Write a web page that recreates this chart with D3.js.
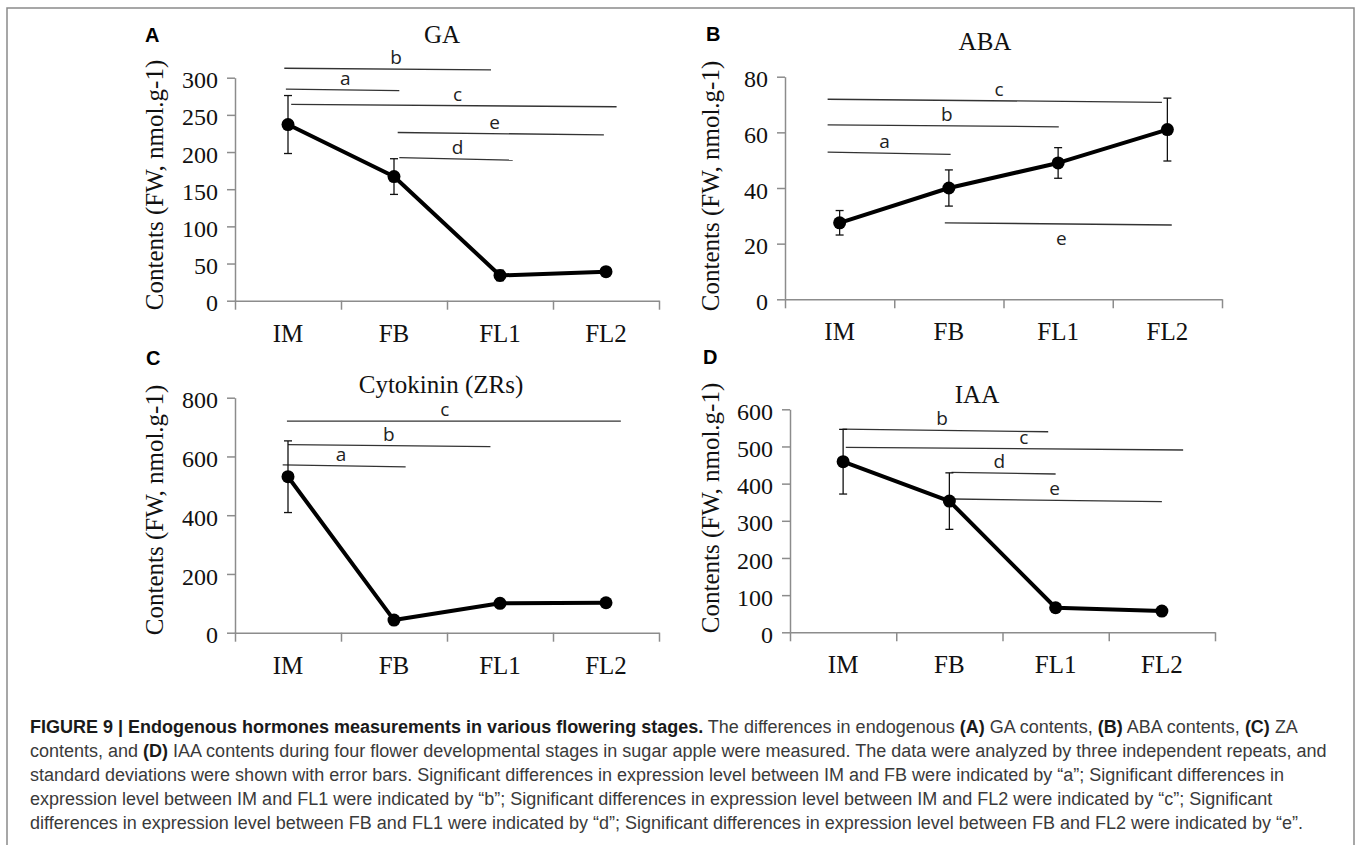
<!DOCTYPE html>
<html>
<head>
<meta charset="utf-8">
<script src="https://cdn.jsdelivr.net/npm/d3@7"></script>
<style>
  body { margin: 0; background: #fff; }
  svg { display: block; }
</style>
</head>
<body>
<svg id="fig" width="1360" height="845"></svg>
<script>
// stages on the x axis
var stages = ["IM", "FB", "FL1", "FL2"];

// means and standard deviations
var gaMean = [237, 167, 34, 39];
var gaErr = [39, 24, 7, 0];
var abaMean = [27.5, 40, 49, 61];
var abaErr = [4.4, 6.5, 5.5, 11.3];
var ckMean = [531, 43, 100, 102];
var ckErr = [122, 0, 0, 0];
var iaaMean = [459, 353, 66, 57];
var iaaErr = [87, 76, 0, 0];

// y tick labels
var gaTicks = [0, 50, 100, 150, 200, 250, 300];
var abaTicks = [0, 20, 40, 60, 80];
var ckTicks = [0, 200, 400, 600, 800];
var iaaTicks = [0, 100, 200, 300, 400, 500, 600];

// significance bars: letter, start/end in stage units, height at each end, letter position
var gaSig = [
  {k: "b", x0: -0.035, x1: 1.915, y0: 312.7, y1: 310.4, lx: 1.02},
  {k: "a", x0: -0.02, x1: 1.05, y0: 284.7, y1: 282.5, lx: 0.54},
  {k: "c", x0: 0.03, x1: 3.10, y0: 264, y1: 260.9, lx: 1.6},
  {k: "e", x0: 1.035, x1: 2.98, y0: 226.3, y1: 223.1, lx: 1.95},
  {k: "d", x0: 1.05, x1: 2.12, y0: 192.6, y1: 189, lx: 1.6}
];
var abaSig = [
  {k: "c", x0: -0.11, x1: 2.95, y0: 71.9, y1: 70.8, lx: 1.46},
  {k: "b", x0: -0.11, x1: 2.006, y0: 62.7, y1: 62.0, lx: 0.98},
  {k: "a", x0: -0.11, x1: 1.016, y0: 52.9, y1: 52.1, lx: 0.41},
  {k: "e", x0: 0.963, x1: 3.04, y0: 27.5, y1: 26.7, lx: 2.03, below: true}
];
var ckSig = [
  {k: "c", x0: -0.01, x1: 3.14, y0: 720, y1: 720, lx: 1.48},
  {k: "b", x0: 0.0, x1: 1.91, y0: 640.5, y1: 633.7, lx: 0.95},
  {k: "a", x0: -0.05, x1: 1.11, y0: 571, y1: 564.6, lx: 0.5}
];
var iaaSig = [
  {k: "b", x0: -0.006, x1: 1.93, y0: 546.8, y1: 539.6, lx: 0.93},
  {k: "c", x0: 0.025, x1: 3.2, y0: 497.7, y1: 490.5, lx: 1.7},
  {k: "d", x0: 1.02, x1: 2.0, y0: 430.5, y1: 425.9, lx: 1.47},
  {k: "e", x0: 1.04, x1: 3.0, y0: 358.6, y1: 351.4, lx: 1.99}
];

var yTitle = "Contents (FW, nmol.g-1)";

var svg = d3.select("#fig");

// page frame
svg.append("rect")
  .attr("x", 7).attr("y", 8)
  .attr("width", 1347).attr("height", 900)
  .attr("fill", "none")
  .attr("stroke", "#8a8a8a")
  .attr("stroke-width", 1.5);

var serif = "'Liberation Serif', 'Times New Roman', serif";
var sans = "'Liberation Sans', Arial, sans-serif";

function panel(p){
  var x = d3.scaleLinear().domain([-0.5, 3.5]).range([p.left, p.right]);
  var y = d3.scaleLinear().domain([0, d3.max(p.ticks)]).range([p.bottom, p.top]);
  var g = svg.append("g");

  // y axis
  var ya = g.append("g")
    .attr("transform", "translate(" + p.left + ",0)")
    .call(d3.axisLeft(y).tickValues(p.ticks).tickSize(8).tickSizeOuter(0).tickPadding(9));
  // x axis: ticks between stages, names centred below
  var xa = g.append("g")
    .attr("transform", "translate(0," + p.bottom + ")")
    .call(d3.axisBottom(x).tickValues([-0.5, 0.5, 1.5, 2.5, 3.5]).tickFormat("").tickSize(9).tickSizeOuter(0));
  [ya, xa].forEach(function(a){
    a.selectAll("path, line").attr("stroke", "#8c8c8c").attr("stroke-width", 1.5);
    a.selectAll("text").attr("font-family", serif).attr("font-size", "24px").attr("fill", "#111");
  });
  ya.selectAll("text").attr("dy", "0.42em");

  g.selectAll(".stage")
    .data(stages)
    .enter()
    .append("text")
    .attr("x", function(d, i){ return x(i); })
    .attr("y", p.bottom + 41)
    .attr("text-anchor", "middle")
    .attr("font-family", serif)
    .attr("font-size", "25px")
    .attr("fill", "#111")
    .text(function(d){ return d; });

  // significance bars
  p.sig.forEach(function(s){
    g.append("line")
      .attr("x1", x(s.x0)).attr("x2", x(s.x1))
      .attr("y1", y(s.y0)).attr("y2", y(s.y1))
      .attr("stroke", "#333").attr("stroke-width", 1.3);
    var ly = y(s.y0 + (s.y1 - s.y0) * (s.lx - s.x0) / (s.x1 - s.x0));
    g.append("text")
      .attr("x", x(s.lx))
      .attr("y", s.below ? ly + 21 : ly - 5)
      .attr("text-anchor", "middle")
      .attr("font-family", "'Open Sans', Arial, sans-serif")
      .attr("font-size", "19px")
      .attr("fill", "#222")
      .text(s.k);
  });

  // error bars
  var pts = p.mean.map(function(m, i){ return {i: i, m: m, e: p.err[i]}; });
  var eb = g.selectAll(".err").data(pts.filter(function(d){ return d.e > 0; })).enter().append("g");
  eb.append("line")
    .attr("x1", function(d){ return x(d.i); }).attr("x2", function(d){ return x(d.i); })
    .attr("y1", function(d){ return y(d.m - d.e); }).attr("y2", function(d){ return y(d.m + d.e); })
    .attr("stroke", "#111").attr("stroke-width", 1.3);
  [-1, 1].forEach(function(sgn){
    eb.append("line")
      .attr("x1", function(d){ return x(d.i) - 4; }).attr("x2", function(d){ return x(d.i) + 4; })
      .attr("y1", function(d){ return y(d.m + sgn * d.e); }).attr("y2", function(d){ return y(d.m + sgn * d.e); })
      .attr("stroke", "#111").attr("stroke-width", 1.3);
  });

  // series line and markers
  g.append("path")
    .datum(pts)
    .attr("fill", "none")
    .attr("stroke", "#000")
    .attr("stroke-width", 4)
    .attr("stroke-linejoin", "round")
    .attr("d", d3.line().x(function(d){ return x(d.i); }).y(function(d){ return y(d.m); }));
  g.selectAll(".pt")
    .data(pts)
    .enter()
    .append("circle")
    .attr("cx", function(d){ return x(d.i); })
    .attr("cy", function(d){ return y(d.m); })
    .attr("r", 6.5)
    .attr("fill", "#000");

  // titles
  g.append("text")
    .attr("x", p.titleX).attr("y", p.titleY)
    .attr("text-anchor", "middle")
    .attr("font-family", serif).attr("font-size", "25px").attr("fill", "#111")
    .text(p.title);
  g.append("text")
    .attr("x", p.letterX).attr("y", p.letterY)
    .attr("font-family", sans).attr("font-weight", "bold").attr("font-size", "20px").attr("fill", "#000")
    .text(p.letter);
  g.append("text")
    .attr("transform", "translate(" + p.yTitleX + "," + p.yTitleY + ") rotate(-90)")
    .attr("text-anchor", "middle")
    .attr("font-family", serif).attr("font-size", "25px").attr("fill", "#111")
    .text(yTitle);
}

panel({letter: "A", title: "GA", mean: gaMean, err: gaErr, ticks: gaTicks, sig: gaSig,
  left: 235, right: 659, bottom: 300.7, top: 77.7,
  titleX: 442, titleY: 43, letterX: 145, letterY: 42, yTitleX: 163, yTitleY: 185});
panel({letter: "B", title: "ABA", mean: abaMean, err: abaErr, ticks: abaTicks, sig: abaSig,
  left: 785, right: 1222, bottom: 299.3, top: 76.7,
  titleX: 985, titleY: 50, letterX: 706, letterY: 41, yTitleX: 719, yTitleY: 186});
panel({letter: "C", title: "Cytokinin (ZRs)", mean: ckMean, err: ckErr, ticks: ckTicks, sig: ckSig,
  left: 235, right: 659, bottom: 632.7, top: 397.7,
  titleX: 441, titleY: 393, letterX: 146, letterY: 365, yTitleX: 163, yTitleY: 510});
panel({letter: "D", title: "IAA", mean: iaaMean, err: iaaErr, ticks: iaaTicks, sig: iaaSig,
  left: 790, right: 1215, bottom: 632.3, top: 409.3,
  titleX: 977, titleY: 403, letterX: 703, letterY: 364, yTitleX: 719, yTitleY: 508});

// caption
var caption = [
  [["FIGURE 9 | Endogenous hormones measurements in various flowering stages.", 1], [" The differences in endogenous ", 0], ["(A)", 1], [" GA contents, ", 0], ["(B)", 1], [" ABA contents, ", 0], ["(C)", 1], [" ZA", 0]],
  [["contents, and ", 0], ["(D)", 1], [" IAA contents during four flower developmental stages in sugar apple were measured. The data were analyzed by three independent repeats, and", 0]],
  [["standard deviations were shown with error bars. Significant differences in expression level between IM and FB were indicated by \u201ca\u201d; Significant differences in", 0]],
  [["expression level between IM and FL1 were indicated by \u201cb\u201d; Significant differences in expression level between IM and FL2 were indicated by \u201cc\u201d; Significant", 0]],
  [["differences in expression level between FB and FL1 were indicated by \u201cd\u201d; Significant differences in expression level between FB and FL2 were indicated by \u201ce\u201d.", 0]]
];
var cap = svg.append("g").attr("font-family", sans).attr("font-size", "16px");
var capLines = caption.map(function(line, li){
  var t = cap.append("text").attr("x", 30).attr("y", 733 + li * 24).attr("fill", "#3a3a3a");
  line.forEach(function(seg){
    t.append("tspan")
      .attr("font-weight", seg[1] ? "bold" : null)
      .attr("fill", seg[1] ? "#1a1a1a" : null)
      .text(seg[0]);
  });
  return t;
});
// fit the second line to its width in the figure
var w = capLines[1].node().getComputedTextLength();
cap.attr("font-size", (16 * 1297 / w).toFixed(2) + "px");
</script>
</body>
</html>
